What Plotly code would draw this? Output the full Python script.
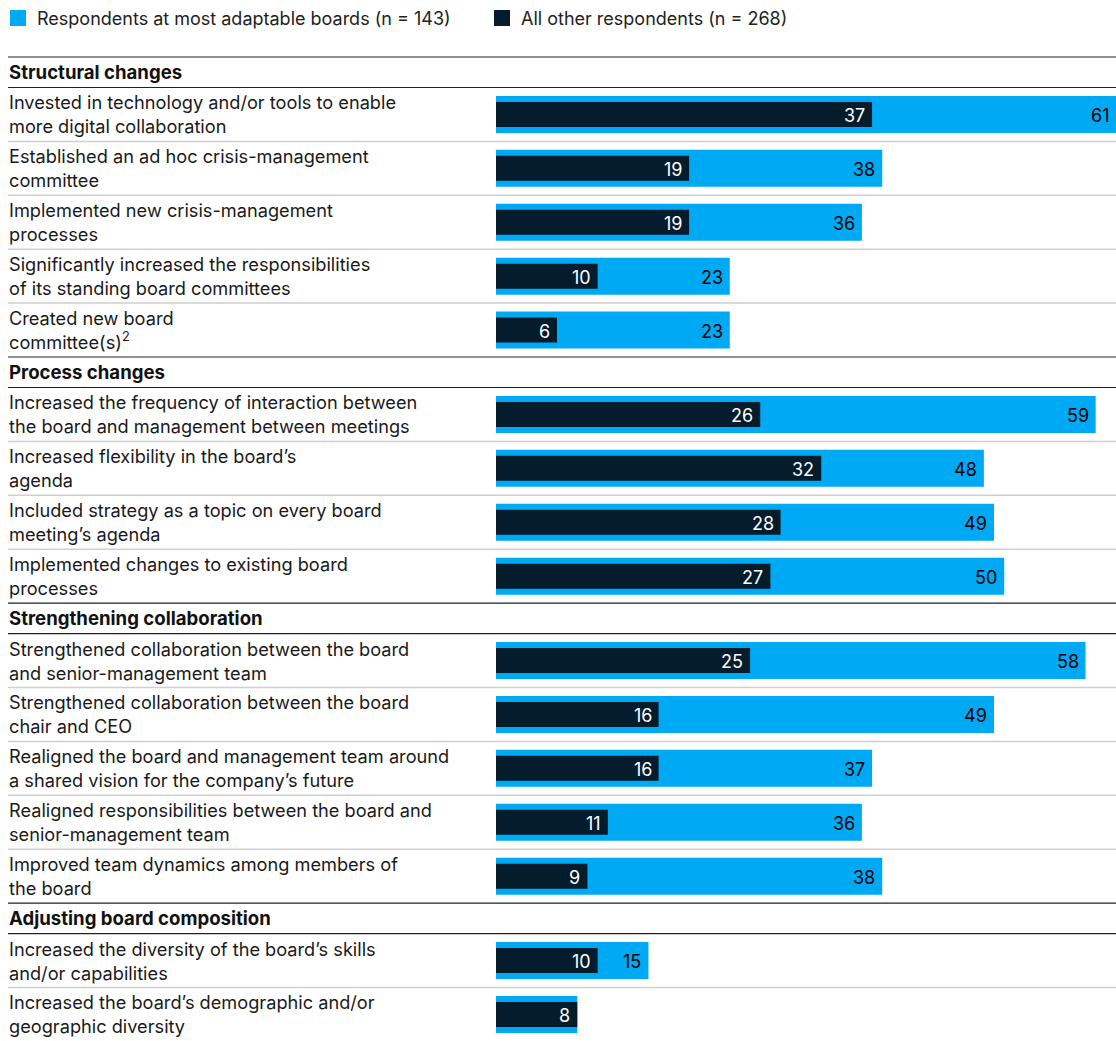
import plotly.graph_objects as go

W, H = 1116, 1041

sections = ["Structural changes", "Process changes", "Strengthening collaboration", "Adjusting board composition"]
section_sizes = [5, 4, 5, 2]

labels = [
    "Invested in technology and/or tools to enable<br>more digital collaboration",
    "Established an ad hoc crisis-management<br>committee",
    "Implemented new crisis-management<br>processes",
    "Significantly increased the responsibilities<br>of its standing board committees",
    "Created new board<br>committee(s)<sup>2</sup>",
    "Increased the frequency of interaction between<br>the board and management between meetings",
    "Increased flexibility in the board’s<br>agenda",
    "Included strategy as a topic on every board<br>meeting’s agenda",
    "Implemented changes to existing board<br>processes",
    "Strengthened collaboration between the board<br>and senior-management team",
    "Strengthened collaboration between the board<br>chair and CEO",
    "Realigned the board and management team around<br>a shared vision for the company’s future",
    "Realigned responsibilities between the board and<br>senior-management team",
    "Improved team dynamics among members of<br>the board",
    "Increased the diversity of the board’s skills<br>and/or capabilities",
    "Increased the board’s demographic and/or<br>geographic diversity",
]
adaptable = [61, 38, 36, 23, 23, 59, 48, 49, 50, 58, 49, 37, 36, 38, 15, 8]
others = [37, 19, 19, 10, 6, 26, 32, 28, 27, 25, 16, 16, 11, 9, 10, 8]

legend_names = ["Respondents at most adaptable boards (n = 143)", "All other respondents (n = 268)"]

LIGHT = "#00A9F4"
DARK = "#051C2C"
TEXT = "#1a1a1a"
FONT = "Inter"

# layout geometry (pixel units on y axis)
TOP = 57.0
HEADER_H = 30.5
ROW_H = 53.9
LINE_LEFT = 8 / W
TEXT_LEFT = 6.5 / W

shapes = []
annotations = []
centers = []
y = TOP
idx = 0
for s, n in zip(sections, section_sizes):
    shapes.append(dict(type="line", xref="paper", yref="y", x0=LINE_LEFT, x1=1, y0=y, y1=y,
                       line=dict(color="#222222", width=1.2)))
    annotations.append(dict(xref="paper", yref="y", x=TEXT_LEFT, y=y + HEADER_H / 2, text="<b>%s</b>" % s,
                            showarrow=False, xanchor="left", yanchor="middle",
                            font=dict(family=FONT, size=18.6, color="#111111")))
    y += HEADER_H
    shapes.append(dict(type="line", xref="paper", yref="y", x0=LINE_LEFT, x1=1, y0=y, y1=y,
                       line=dict(color="#222222", width=1.2)))
    for k in range(n):
        c = y + ROW_H / 2
        centers.append(c)
        annotations.append(dict(xref="paper", yref="y", x=TEXT_LEFT, y=c, text=labels[idx],
                                showarrow=False, xanchor="left", yanchor="middle", align="left",
                                font=dict(family=FONT, size=18.2, color=TEXT)))
        idx += 1
        y += ROW_H
        if k < n - 1:
            shapes.append(dict(type="line", xref="paper", yref="y", x0=LINE_LEFT, x1=1, y0=y, y1=y,
                               line=dict(color="#cfcfcf", width=1.5)))

fig = go.Figure()
fig.add_trace(go.Bar(orientation="h", y=centers, x=adaptable, width=37, marker=dict(color=LIGHT, line=dict(width=0)),
                     name=legend_names[0], hoverinfo="x"))
fig.add_trace(go.Bar(orientation="h", y=centers, x=others, width=25, marker=dict(color=DARK, line=dict(width=0)),
                     name=legend_names[1], hoverinfo="x"))

for c, a, o in zip(centers, adaptable, others):
    if a != o:
        annotations.append(dict(xref="x", yref="y", x=a, y=c + 1, text=str(a), showarrow=False,
                                xanchor="right", yanchor="middle", xshift=-5,
                                font=dict(family=FONT, size=18, color="#000000")))
    annotations.append(dict(xref="x", yref="y", x=o, y=c + 1, text=str(o), showarrow=False,
                            xanchor="right", yanchor="middle", xshift=-5,
                            font=dict(family=FONT, size=18, color="#ffffff")))

# legend (drawn manually)
leg_items = [(10, 35, LIGHT, legend_names[0]), (494, 519, DARK, legend_names[1])]
for sx, tx, col, name in leg_items:
    shapes.append(dict(type="rect", xref="paper", yref="y", x0=sx / W, x1=(sx + 16) / W, y0=10, y1=26,
                       fillcolor=col, line=dict(width=0)))
    annotations.append(dict(xref="paper", yref="y", x=tx / W, y=18, text=name, showarrow=False,
                            xanchor="left", yanchor="middle",
                            font=dict(family=FONT, size=18, color="#222222")))

fig.update_layout(
    width=W, height=H,
    margin=dict(l=0, r=0, t=0, b=0),
    paper_bgcolor="white", plot_bgcolor="white",
    barmode="overlay", showlegend=False,
    xaxis=dict(domain=[496 / W, 1], range=[0, 61.0], visible=False, fixedrange=True),
    yaxis=dict(domain=[0, 1], range=[H, 0], visible=False, fixedrange=True),
    shapes=shapes, annotations=annotations,
)
fig.write_html("out.html", config={"displayModeBar": False},
               post_script="document.body.style.margin='0';document.body.style.padding='0';")
